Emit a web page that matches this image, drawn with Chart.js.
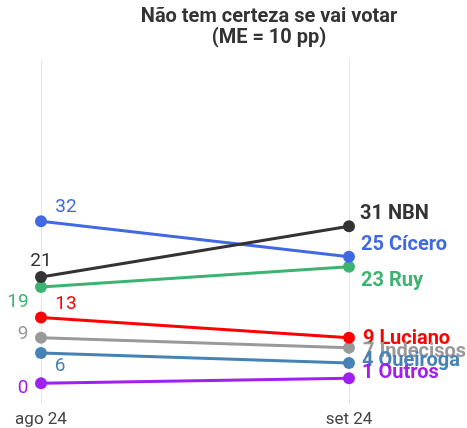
<!DOCTYPE html>
<html>
<head>
<meta charset="utf-8">
<script src="https://cdn.jsdelivr.net/npm/chart.js@4"></script>
<style>
  html, body { margin: 0; padding: 0; background: #fff; }
  #wrap { width: 467px; height: 428px; position: relative; }
</style>
</head>
<body>
<div id="wrap"><canvas id="c" width="467" height="428"></canvas></div>
<script>
// ---- data ----
const categories = ['ago 24', 'set 24'];
const seriesNames = ['NBN', 'Cícero', 'Ruy', 'Luciano', 'Indecisos', 'Queiroga', 'Outros'];
const nbn = [21, 31];
const cicero = [32, 25];
const ruy = [19, 23];
const luciano = [13, 9];
const indecisos = [9, 7];
const queiroga = [6, 4];
const outros = [0, 1];
const titleLines = ['Não tem certeza se vai votar', '(ME = 10 pp)'];

// ---- styles ----
const colors = ['#333333', '#4169e1', '#3cb371', '#ff0000', '#999999', '#4682b4', '#a020f0'];
// label offsets: dx, dy
const leftLabelPos = [
  [0, -16], [25, -14], [-23, 15], [25, -13], [-18, -3], [19, 13], [-18, 5]
];
const rightLabelPos = [
  [11, -12], [12, -12], [12, 14], [14, 1], [14, 4], [13, -2], [13, -5]
];

const allSeries = [nbn, cicero, ruy, luciano, indecisos, queiroga, outros];

const datasets = allSeries.map((d, i) => ({
  label: seriesNames[i],
  data: d,
  borderColor: colors[i],
  backgroundColor: colors[i],
  pointBackgroundColor: colors[i],
  pointBorderColor: colors[i],
  pointRadius: 6,
  pointBorderWidth: 0,
  borderWidth: 3,
  tension: 0
}));

const labelPlugin = {
  id: 'labels',
  afterDatasetsDraw(chart) {
    const ctx = chart.ctx;
    ctx.save();
    ctx.textBaseline = 'middle';
    ctx.fillStyle = '#333333';
    ctx.textAlign = 'center';
    ctx.font = 'bold 20px Roboto';
    ctx.fillText(titleLines[0], 269, 17);
    ctx.fillText(titleLines[1], 269, 38);
    for (let i = 0; i < allSeries.length; i++) {
      const p0 = chart.getDatasetMeta(i).data[0];
      ctx.fillStyle = colors[i];
      ctx.font = '19px Roboto';
      ctx.textAlign = 'center';
      ctx.fillText(String(allSeries[i][0]), p0.x + leftLabelPos[i][0], p0.y + leftLabelPos[i][1]);
    }
    for (let i = 0; i < allSeries.length; i++) {
      const p1 = chart.getDatasetMeta(i).data[1];
      ctx.fillStyle = colors[i];
      ctx.font = 'bold 20px Roboto';
      ctx.textAlign = 'left';
      ctx.fillText(allSeries[i][1] + ' ' + seriesNames[i], p1.x + rightLabelPos[i][0], p1.y + rightLabelPos[i][1]);
    }
    ctx.restore();
  }
};

new Chart(document.getElementById('c'), {
  type: 'line',
  data: { labels: categories, datasets: datasets },
  options: {
    responsive: false,
    animation: false,
    layout: { padding: { left: 41, right: 118, top: 59, bottom: -8 } },
    plugins: {
      legend: { display: false },
      title: { display: false },
      tooltip: { enabled: false }
    },
    scales: {
      x: {
        offset: false,
        grid: { color: '#e6e6e6', lineWidth: 1, drawTicks: false },
        border: { display: false },
        ticks: { color: '#444444', font: { family: 'Roboto', size: 17 }, padding: 6 }
      },
      y: {
        display: false,
        min: -4,
        max: 64
      }
    }
  },
  plugins: [labelPlugin]
});
</script>
</body>
</html>
